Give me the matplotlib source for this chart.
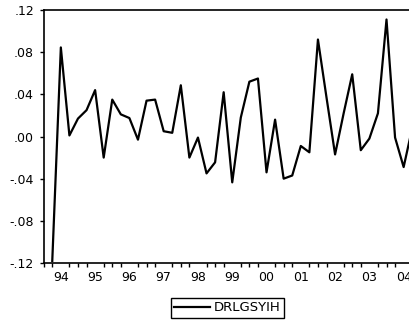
import matplotlib
matplotlib.use("Agg")
import matplotlib.pyplot as plt
from matplotlib.ticker import FixedLocator, MultipleLocator
import numpy as np

plt.rcParams['font.family'] = ['DejaVu Sans']

# Quarterly series DRLGSYIH, 1994Q2 .. 2004Q4 (1994Q1 is NA)
series_name = "DRLGSYIH"
values = [-0.118, 0.0845, 0.001, 0.017, 0.025, 0.044, -0.020, 0.035, 0.021, 0.0175,
          -0.003, 0.034, 0.035, 0.005, 0.0035, 0.0486, -0.020, -0.001, -0.035, -0.0245,
          0.042, -0.0435, 0.018, 0.052, 0.055, -0.034, 0.016, -0.040, -0.037, -0.009,
          -0.015, 0.092, 0.037, -0.017, 0.022, 0.059, -0.013, -0.002, 0.022, 0.111,
          -0.001, -0.029, 0.008]
year_labels = ["94", "95", "96", "97", "98", "99", "00", "01", "02", "03", "04"]
y_ticks = [-0.12, -0.08, -0.04, 0.00, 0.04, 0.08, 0.12]
y_tick_labels = ["-.12", "-.08", "-.04", ".00", ".04", ".08", ".12"]

W, H = 410, 328
fig = plt.figure(figsize=(W / 100, H / 100), dpi=100)

q_px = 8.57
left_px, top_px, bottom_px = 43.7, 10, 263
n_q = 43
ax = fig.add_axes([left_px / W, (H - bottom_px) / H, n_q * q_px / W, (bottom_px - top_px) / H])

x = np.arange(1, len(values) + 1)
ax.plot(x, values, color='black', lw=1.6, label=series_name)

ax.set_xlim(0, n_q)
ax.set_ylim(-0.12, 0.12)

ax.set_yticks(y_ticks)
ax.set_yticklabels(y_tick_labels)
ax.tick_params(axis='y', direction='out', length=3, width=1, pad=4, labelsize=9)

ax.xaxis.set_major_locator(FixedLocator([2 + 4 * k for k in range(len(year_labels))]))
ax.set_xticklabels(year_labels)
ax.xaxis.set_minor_locator(MultipleLocator(1))
ax.tick_params(axis='x', which='major', length=0, pad=6, labelsize=9)
ax.tick_params(axis='x', which='minor', direction='out', length=3, width=1)

for s in ax.spines.values():
    s.set_linewidth(1.2)
    s.set_color('black')

leg = fig.legend(loc='center', bbox_to_anchor=(0.555, 0.061), frameon=True,
                 fancybox=False, edgecolor='black', framealpha=1,
                 handlelength=2.7, fontsize=9.5, borderpad=0.25, handletextpad=0.3,
                 borderaxespad=0)
leg.get_frame().set_linewidth(1.0)

fig.savefig("out.png", dpi=100)
